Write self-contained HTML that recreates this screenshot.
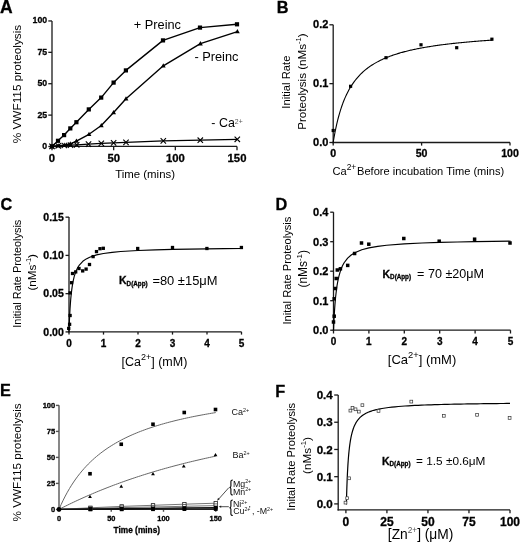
<!DOCTYPE html>
<html><head><meta charset="utf-8"><style>
html,body{margin:0;padding:0;background:#fff;overflow:hidden;}
svg{display:block;font-family:"Liberation Sans", sans-serif;filter:grayscale(1);}
</style></head><body>
<svg width="520" height="543" viewBox="0 0 520 543">
<rect width="520" height="543" fill="#fff"/>
<text id="L_A" x="-0.10" y="12.60" font-size="17.500" font-weight="bold" stroke="#000" stroke-width="0.3" text-anchor="start" fill="#000">A</text>
<line x1="52.00" y1="147.05" x2="52.00" y2="20.90" stroke="#1a1a1a" stroke-width="1.3" stroke-linecap="butt"/>
<line x1="51.35" y1="146.40" x2="237.05" y2="146.40" stroke="#1a1a1a" stroke-width="1.3" stroke-linecap="butt"/>
<line x1="48.30" y1="146.50" x2="52.00" y2="146.50" stroke="#1a1a1a" stroke-width="1.3" stroke-linecap="butt"/>
<text id="A_yl0" x="47.20" y="149.04" font-size="9.400" font-weight="bold" stroke="#000" stroke-width="0.3" text-anchor="end" fill="#000" textLength="4.86" lengthAdjust="spacingAndGlyphs">0</text>
<line x1="48.30" y1="115.11" x2="52.00" y2="115.11" stroke="#1a1a1a" stroke-width="1.3" stroke-linecap="butt"/>
<text id="A_yl1" x="47.20" y="117.65" font-size="9.400" font-weight="bold" stroke="#000" stroke-width="0.3" text-anchor="end" fill="#000" textLength="9.72" lengthAdjust="spacingAndGlyphs">25</text>
<line x1="48.30" y1="83.72" x2="52.00" y2="83.72" stroke="#1a1a1a" stroke-width="1.3" stroke-linecap="butt"/>
<text id="A_yl2" x="47.20" y="86.26" font-size="9.400" font-weight="bold" stroke="#000" stroke-width="0.3" text-anchor="end" fill="#000" textLength="9.72" lengthAdjust="spacingAndGlyphs">50</text>
<line x1="48.30" y1="52.34" x2="52.00" y2="52.34" stroke="#1a1a1a" stroke-width="1.3" stroke-linecap="butt"/>
<text id="A_yl3" x="47.20" y="54.87" font-size="9.400" font-weight="bold" stroke="#000" stroke-width="0.3" text-anchor="end" fill="#000" textLength="9.72" lengthAdjust="spacingAndGlyphs">75</text>
<line x1="48.30" y1="20.95" x2="52.00" y2="20.95" stroke="#1a1a1a" stroke-width="1.3" stroke-linecap="butt"/>
<text id="A_yl4" x="47.20" y="23.49" font-size="9.400" font-weight="bold" stroke="#000" stroke-width="0.3" text-anchor="end" fill="#000" textLength="14.58" lengthAdjust="spacingAndGlyphs">100</text>
<line x1="52.00" y1="146.40" x2="52.00" y2="150.30" stroke="#1a1a1a" stroke-width="1.3" stroke-linecap="butt"/>
<text id="A_xl0" x="52.00" y="161.60" font-size="11.300" font-weight="bold" stroke="#000" stroke-width="0.3" text-anchor="middle" fill="#000">0</text>
<line x1="113.67" y1="146.40" x2="113.67" y2="150.30" stroke="#1a1a1a" stroke-width="1.3" stroke-linecap="butt"/>
<text id="A_xl1" x="113.67" y="161.60" font-size="11.300" font-weight="bold" stroke="#000" stroke-width="0.3" text-anchor="middle" fill="#000">50</text>
<line x1="175.33" y1="146.40" x2="175.33" y2="150.30" stroke="#1a1a1a" stroke-width="1.3" stroke-linecap="butt"/>
<text id="A_xl2" x="175.33" y="161.60" font-size="11.300" font-weight="bold" stroke="#000" stroke-width="0.3" text-anchor="middle" fill="#000">100</text>
<line x1="237.00" y1="146.40" x2="237.00" y2="150.30" stroke="#1a1a1a" stroke-width="1.3" stroke-linecap="butt"/>
<text id="A_xl3" x="237.00" y="161.60" font-size="11.300" font-weight="bold" stroke="#000" stroke-width="0.3" text-anchor="middle" fill="#000">150</text>
<text id="A_xt" x="115.18" y="177.80" font-size="11.438" text-anchor="start" fill="#000">Time (mins)</text>
<text id="A_yt" transform="translate(20.80 143.37) rotate(-90)" x="0" y="0" font-size="11.827" text-anchor="start" fill="#000">% VWF115 proteolysis</text>
<path d="M52.00,146.40 L58.20,145.80 L64.30,145.50 L70.50,145.20 L76.70,144.80 L88.50,144.10 L101.30,143.40 L113.60,142.90 L126.00,142.40 L163.30,140.90 L200.30,140.20 L237.30,139.30" fill="none" stroke="#000" stroke-width="1.3" stroke-linejoin="round"/>
<path d="M52.00,146.40 L58.20,145.80 L64.30,145.20 L70.30,143.90 L76.40,141.10 L89.00,134.30 L101.30,125.50 L113.60,112.50 L126.00,98.80 L163.30,65.80 L200.40,43.70 L237.40,31.60" fill="none" stroke="#000" stroke-width="1.4" stroke-linejoin="round"/>
<path d="M52.00,146.40 L58.00,140.80 L64.10,135.10 L70.30,128.40 L76.40,122.20 L88.80,109.40 L101.20,97.60 L113.60,82.60 L125.90,70.40 L163.00,40.40 L200.00,27.60 L237.00,24.30" fill="none" stroke="#000" stroke-width="1.4" stroke-linejoin="round"/>
<path d="M49.30,143.70 L54.70,149.10 M54.70,143.70 L49.30,149.10" stroke="#000" stroke-width="1.1" fill="none"/>
<path d="M55.50,143.10 L60.90,148.50 M60.90,143.10 L55.50,148.50" stroke="#000" stroke-width="1.1" fill="none"/>
<path d="M61.60,142.80 L67.00,148.20 M67.00,142.80 L61.60,148.20" stroke="#000" stroke-width="1.1" fill="none"/>
<path d="M67.80,142.50 L73.20,147.90 M73.20,142.50 L67.80,147.90" stroke="#000" stroke-width="1.1" fill="none"/>
<path d="M74.00,142.10 L79.40,147.50 M79.40,142.10 L74.00,147.50" stroke="#000" stroke-width="1.1" fill="none"/>
<path d="M85.80,141.40 L91.20,146.80 M91.20,141.40 L85.80,146.80" stroke="#000" stroke-width="1.1" fill="none"/>
<path d="M98.60,140.70 L104.00,146.10 M104.00,140.70 L98.60,146.10" stroke="#000" stroke-width="1.1" fill="none"/>
<path d="M110.90,140.20 L116.30,145.60 M116.30,140.20 L110.90,145.60" stroke="#000" stroke-width="1.1" fill="none"/>
<path d="M123.30,139.70 L128.70,145.10 M128.70,139.70 L123.30,145.10" stroke="#000" stroke-width="1.1" fill="none"/>
<path d="M160.60,138.20 L166.00,143.60 M166.00,138.20 L160.60,143.60" stroke="#000" stroke-width="1.1" fill="none"/>
<path d="M197.60,137.50 L203.00,142.90 M203.00,137.50 L197.60,142.90" stroke="#000" stroke-width="1.1" fill="none"/>
<path d="M234.60,136.60 L240.00,142.00 M240.00,136.60 L234.60,142.00" stroke="#000" stroke-width="1.1" fill="none"/>
<path d="M52.00,143.81 L54.40,148.13 L49.60,148.13 Z" fill="#000"/>
<path d="M58.20,143.21 L60.60,147.53 L55.80,147.53 Z" fill="#000"/>
<path d="M64.30,142.61 L66.70,146.93 L61.90,146.93 Z" fill="#000"/>
<path d="M70.30,141.31 L72.70,145.63 L67.90,145.63 Z" fill="#000"/>
<path d="M76.40,138.51 L78.80,142.83 L74.00,142.83 Z" fill="#000"/>
<path d="M89.00,131.71 L91.40,136.03 L86.60,136.03 Z" fill="#000"/>
<path d="M101.30,122.91 L103.70,127.23 L98.90,127.23 Z" fill="#000"/>
<path d="M113.60,109.91 L116.00,114.23 L111.20,114.23 Z" fill="#000"/>
<path d="M126.00,96.21 L128.40,100.53 L123.60,100.53 Z" fill="#000"/>
<path d="M163.30,63.21 L165.70,67.53 L160.90,67.53 Z" fill="#000"/>
<path d="M200.40,41.11 L202.80,45.43 L198.00,45.43 Z" fill="#000"/>
<path d="M237.40,29.01 L239.80,33.33 L235.00,33.33 Z" fill="#000"/>
<rect x="49.90" y="144.30" width="4.2" height="4.2" fill="#000"/>
<rect x="55.90" y="138.70" width="4.2" height="4.2" fill="#000"/>
<rect x="62.00" y="133.00" width="4.2" height="4.2" fill="#000"/>
<rect x="68.20" y="126.30" width="4.2" height="4.2" fill="#000"/>
<rect x="74.30" y="120.10" width="4.2" height="4.2" fill="#000"/>
<rect x="86.70" y="107.30" width="4.2" height="4.2" fill="#000"/>
<rect x="99.10" y="95.50" width="4.2" height="4.2" fill="#000"/>
<rect x="111.50" y="80.50" width="4.2" height="4.2" fill="#000"/>
<rect x="123.80" y="68.30" width="4.2" height="4.2" fill="#000"/>
<rect x="160.90" y="38.30" width="4.2" height="4.2" fill="#000"/>
<rect x="197.90" y="25.50" width="4.2" height="4.2" fill="#000"/>
<rect x="234.90" y="22.20" width="4.2" height="4.2" fill="#000"/>
<text id="A_p1" x="133.79" y="29.10" font-size="12.788" text-anchor="start" fill="#000">+ Preinc</text>
<text id="A_p2" x="194.40" y="60.70" font-size="12.808" text-anchor="start" fill="#000">- Preinc</text>
<text id="A_ca" x="211.36" y="127.30" font-size="12.434" text-anchor="start" fill="#000">- Ca</text>
<text id="A_ca2" x="234.80" y="124.40" font-size="6.900" text-anchor="start" fill="#555">2+</text>
<text id="L_B" x="276.73" y="12.70" font-size="16.300" font-weight="bold" stroke="#000" stroke-width="0.3" text-anchor="start" fill="#000">B</text>
<line x1="333.20" y1="143.15" x2="333.20" y2="24.75" stroke="#1a1a1a" stroke-width="1.3" stroke-linecap="butt"/>
<line x1="332.55" y1="142.50" x2="510.05" y2="142.50" stroke="#1a1a1a" stroke-width="1.3" stroke-linecap="butt"/>
<line x1="329.40" y1="142.50" x2="333.20" y2="142.50" stroke="#1a1a1a" stroke-width="1.3" stroke-linecap="butt"/>
<text id="B_yl0" x="328.40" y="145.91" font-size="11.000" font-weight="bold" stroke="#000" stroke-width="0.3" text-anchor="end" fill="#000">0.0</text>
<line x1="329.40" y1="83.65" x2="333.20" y2="83.65" stroke="#1a1a1a" stroke-width="1.3" stroke-linecap="butt"/>
<text id="B_yl1" x="328.40" y="87.06" font-size="11.000" font-weight="bold" stroke="#000" stroke-width="0.3" text-anchor="end" fill="#000">0.1</text>
<line x1="329.40" y1="24.80" x2="333.20" y2="24.80" stroke="#1a1a1a" stroke-width="1.3" stroke-linecap="butt"/>
<text id="B_yl2" x="328.40" y="28.20" font-size="11.000" font-weight="bold" stroke="#000" stroke-width="0.3" text-anchor="end" fill="#000">0.2</text>
<line x1="333.20" y1="142.50" x2="333.20" y2="145.60" stroke="#1a1a1a" stroke-width="1.3" stroke-linecap="butt"/>
<text id="B_xl0" x="333.20" y="157.00" font-size="10.600" font-weight="bold" stroke="#000" stroke-width="0.3" text-anchor="middle" fill="#000">0</text>
<line x1="421.60" y1="142.50" x2="421.60" y2="145.60" stroke="#1a1a1a" stroke-width="1.3" stroke-linecap="butt"/>
<text id="B_xl1" x="421.60" y="157.00" font-size="10.600" font-weight="bold" stroke="#000" stroke-width="0.3" text-anchor="middle" fill="#000">50</text>
<line x1="510.00" y1="142.50" x2="510.00" y2="145.60" stroke="#1a1a1a" stroke-width="1.3" stroke-linecap="butt"/>
<text id="B_xl2" x="510.00" y="157.00" font-size="10.600" font-weight="bold" stroke="#000" stroke-width="0.3" text-anchor="middle" fill="#000">100</text>
<path d="M333.20,142.50 L334.08,137.28 L334.97,132.51 L335.85,128.14 L336.74,124.13 L337.62,120.42 L338.50,116.99 L339.39,113.81 L340.27,110.84 L341.16,108.08 L342.04,105.49 L342.92,103.07 L343.81,100.79 L344.69,98.65 L345.58,96.63 L346.46,94.72 L347.34,92.92 L348.23,91.21 L349.11,89.59 L350.00,88.05 L350.88,86.59 L351.76,85.19 L352.65,83.86 L353.53,82.60 L354.42,81.38 L355.30,80.23 L356.18,79.12 L357.07,78.05 L357.95,77.03 L358.84,76.05 L359.72,75.11 L360.60,74.21 L361.49,73.34 L362.37,72.50 L363.26,71.70 L364.14,70.92 L365.02,70.17 L365.91,69.44 L366.79,68.74 L367.68,68.06 L368.56,67.41 L369.44,66.78 L370.33,66.16 L371.21,65.57 L372.10,64.99 L372.98,64.44 L373.86,63.89 L374.75,63.37 L375.63,62.86 L376.52,62.36 L377.40,61.88 L378.28,61.41 L379.17,60.96 L380.05,60.51 L380.94,60.08 L381.82,59.66 L382.70,59.25 L383.59,58.85 L384.47,58.47 L385.36,58.09 L386.24,57.72 L387.12,57.36 L388.01,57.01 L388.89,56.66 L389.78,56.33 L390.66,56.00 L391.54,55.68 L392.43,55.37 L393.31,55.06 L394.20,54.76 L395.08,54.47 L395.96,54.19 L396.85,53.91 L397.73,53.63 L398.62,53.36 L399.50,53.10 L400.38,52.84 L401.27,52.59 L402.15,52.35 L403.04,52.11 L403.92,51.87 L404.80,51.64 L405.69,51.41 L406.57,51.19 L407.46,50.97 L408.34,50.75 L409.22,50.54 L410.11,50.33 L410.99,50.13 L411.88,49.93 L412.76,49.73 L413.64,49.54 L414.53,49.35 L415.41,49.17 L416.30,48.99 L417.18,48.81 L418.06,48.63 L418.95,48.46 L419.83,48.29 L420.72,48.12 L421.60,47.95 L422.48,47.79 L423.37,47.63 L424.25,47.48 L425.14,47.32 L426.02,47.17 L426.90,47.02 L427.79,46.87 L428.67,46.73 L429.56,46.59 L430.44,46.45 L431.32,46.31 L432.21,46.17 L433.09,46.04 L433.98,45.91 L434.86,45.78 L435.74,45.65 L436.63,45.52 L437.51,45.40 L438.40,45.27 L439.28,45.15 L440.16,45.03 L441.05,44.91 L441.93,44.80 L442.82,44.68 L443.70,44.57 L444.58,44.46 L445.47,44.35 L446.35,44.24 L447.24,44.13 L448.12,44.03 L449.00,43.93 L449.89,43.82 L450.77,43.72 L451.66,43.62 L452.54,43.52 L453.42,43.42 L454.31,43.33 L455.19,43.23 L456.08,43.14 L456.96,43.05 L457.84,42.95 L458.73,42.86 L459.61,42.77 L460.50,42.69 L461.38,42.60 L462.26,42.51 L463.15,42.43 L464.03,42.34 L464.92,42.26 L465.80,42.18 L466.68,42.10 L467.57,42.02 L468.45,41.94 L469.34,41.86 L470.22,41.78 L471.10,41.70 L471.99,41.63 L472.87,41.55 L473.76,41.48 L474.64,41.41 L475.52,41.33 L476.41,41.26 L477.29,41.19 L478.18,41.12 L479.06,41.05 L479.94,40.98 L480.83,40.91 L481.71,40.85 L482.60,40.78 L483.48,40.71 L484.36,40.65 L485.25,40.59 L486.13,40.52 L487.02,40.46 L487.90,40.40 L488.78,40.33 L489.67,40.27 L490.55,40.21 L491.44,40.15 L492.32,40.09" fill="none" stroke="#000" stroke-width="1.1" stroke-linejoin="round"/>
<rect x="331.60" y="128.90" width="3.2" height="3.2" fill="#000"/>
<rect x="349.00" y="84.70" width="3.2" height="3.2" fill="#000"/>
<rect x="384.40" y="56.10" width="3.2" height="3.2" fill="#000"/>
<rect x="419.40" y="43.20" width="3.2" height="3.2" fill="#000"/>
<rect x="455.10" y="46.10" width="3.2" height="3.2" fill="#000"/>
<rect x="490.30" y="37.60" width="3.2" height="3.2" fill="#000"/>
<text id="B_yt1" transform="translate(290.10 108.70) rotate(-90)" x="0" y="0" font-size="11.252" text-anchor="start" fill="#000">Initial Rate</text>
<text id="B_yt2" transform="translate(305.90 129.77) rotate(-90)" x="0" y="0" font-size="11.625" text-anchor="start" fill="#000">Proteolysis (nMs<tspan font-size="7.56" dy="-4.65">-1</tspan><tspan dy="4.65">)</tspan></text>
<text id="B_xt" x="332.46" y="174.50" font-size="11.098" text-anchor="start" fill="#000">Ca<tspan font-size="8.43" dy="-4.44">2+</tspan><tspan dy="4.44" dx="0.8">Before incubation Time (mins)</tspan></text>
<text id="L_C" x="0.54" y="210.10" font-size="16.300" font-weight="bold" stroke="#000" stroke-width="0.3" text-anchor="start" fill="#000">C</text>
<line x1="69.00" y1="332.55" x2="69.00" y2="217.10" stroke="#1a1a1a" stroke-width="1.3" stroke-linecap="butt"/>
<line x1="68.35" y1="331.90" x2="241.55" y2="331.90" stroke="#1a1a1a" stroke-width="1.3" stroke-linecap="butt"/>
<line x1="65.50" y1="331.90" x2="69.00" y2="331.90" stroke="#1a1a1a" stroke-width="1.3" stroke-linecap="butt"/>
<text id="C_yl0" x="63.80" y="335.63" font-size="10.500" font-weight="bold" stroke="#000" stroke-width="0.3" text-anchor="end" fill="#000">0.00</text>
<line x1="65.50" y1="293.65" x2="69.00" y2="293.65" stroke="#1a1a1a" stroke-width="1.3" stroke-linecap="butt"/>
<text id="C_yl1" x="63.80" y="297.38" font-size="10.500" font-weight="bold" stroke="#000" stroke-width="0.3" text-anchor="end" fill="#000">0.05</text>
<line x1="65.50" y1="255.40" x2="69.00" y2="255.40" stroke="#1a1a1a" stroke-width="1.3" stroke-linecap="butt"/>
<text id="C_yl2" x="63.80" y="259.13" font-size="10.500" font-weight="bold" stroke="#000" stroke-width="0.3" text-anchor="end" fill="#000">0.10</text>
<line x1="65.50" y1="217.15" x2="69.00" y2="217.15" stroke="#1a1a1a" stroke-width="1.3" stroke-linecap="butt"/>
<text id="C_yl3" x="63.80" y="220.88" font-size="10.500" font-weight="bold" stroke="#000" stroke-width="0.3" text-anchor="end" fill="#000">0.15</text>
<line x1="69.00" y1="331.90" x2="69.00" y2="334.60" stroke="#1a1a1a" stroke-width="1.3" stroke-linecap="butt"/>
<text id="C_xl0" x="69.00" y="346.50" font-size="10.000" font-weight="bold" stroke="#000" stroke-width="0.3" text-anchor="middle" fill="#000">0</text>
<line x1="103.50" y1="331.90" x2="103.50" y2="334.60" stroke="#1a1a1a" stroke-width="1.3" stroke-linecap="butt"/>
<text id="C_xl1" x="103.50" y="346.50" font-size="10.000" font-weight="bold" stroke="#000" stroke-width="0.3" text-anchor="middle" fill="#000">1</text>
<line x1="138.00" y1="331.90" x2="138.00" y2="334.60" stroke="#1a1a1a" stroke-width="1.3" stroke-linecap="butt"/>
<text id="C_xl2" x="138.00" y="346.50" font-size="10.000" font-weight="bold" stroke="#000" stroke-width="0.3" text-anchor="middle" fill="#000">2</text>
<line x1="172.50" y1="331.90" x2="172.50" y2="334.60" stroke="#1a1a1a" stroke-width="1.3" stroke-linecap="butt"/>
<text id="C_xl3" x="172.50" y="346.50" font-size="10.000" font-weight="bold" stroke="#000" stroke-width="0.3" text-anchor="middle" fill="#000">3</text>
<line x1="207.00" y1="331.90" x2="207.00" y2="334.60" stroke="#1a1a1a" stroke-width="1.3" stroke-linecap="butt"/>
<text id="C_xl4" x="207.00" y="346.50" font-size="10.000" font-weight="bold" stroke="#000" stroke-width="0.3" text-anchor="middle" fill="#000">4</text>
<line x1="241.50" y1="331.90" x2="241.50" y2="334.60" stroke="#1a1a1a" stroke-width="1.3" stroke-linecap="butt"/>
<text id="C_xl5" x="241.50" y="346.50" font-size="10.000" font-weight="bold" stroke="#000" stroke-width="0.3" text-anchor="middle" fill="#000">5</text>
<path d="M69.00,331.90 L69.17,326.92 L69.34,322.49 L69.69,314.96 L70.03,308.80 L70.38,303.67 L70.72,299.33 L71.07,295.61 L71.76,289.56 L72.45,284.85 L73.14,281.09 L74.17,276.67 L75.90,271.41 L77.62,267.74 L79.35,265.04 L82.80,261.33 L86.25,258.90 L89.70,257.18 L96.60,254.91 L103.50,253.49 L112.12,252.31 L120.75,251.50 L138.00,250.47 L155.25,249.84 L172.50,249.41 L189.75,249.11 L207.00,248.87 L224.25,248.69 L241.50,248.55" fill="none" stroke="#000" stroke-width="1.15" stroke-linejoin="round"/>
<rect x="67.05" y="326.75" width="3.3" height="3.3" fill="#000"/>
<rect x="67.95" y="322.65" width="3.3" height="3.3" fill="#000"/>
<rect x="68.45" y="313.85" width="3.3" height="3.3" fill="#000"/>
<rect x="68.45" y="291.25" width="3.3" height="3.3" fill="#000"/>
<rect x="69.95" y="281.05" width="3.3" height="3.3" fill="#000"/>
<rect x="70.85" y="271.85" width="3.3" height="3.3" fill="#000"/>
<rect x="74.05" y="270.25" width="3.3" height="3.3" fill="#000"/>
<rect x="77.35" y="266.85" width="3.3" height="3.3" fill="#000"/>
<rect x="81.05" y="269.25" width="3.3" height="3.3" fill="#000"/>
<rect x="84.45" y="267.45" width="3.3" height="3.3" fill="#000"/>
<rect x="87.85" y="262.85" width="3.3" height="3.3" fill="#000"/>
<rect x="91.45" y="254.95" width="3.3" height="3.3" fill="#000"/>
<rect x="94.85" y="249.95" width="3.3" height="3.3" fill="#000"/>
<rect x="98.35" y="247.05" width="3.3" height="3.3" fill="#000"/>
<rect x="101.65" y="246.65" width="3.3" height="3.3" fill="#000"/>
<rect x="136.05" y="246.85" width="3.3" height="3.3" fill="#000"/>
<rect x="170.85" y="245.85" width="3.3" height="3.3" fill="#000"/>
<rect x="205.25" y="246.85" width="3.3" height="3.3" fill="#000"/>
<rect x="239.75" y="245.85" width="3.3" height="3.3" fill="#000"/>
<text id="C_yt1" transform="translate(21.10 327.72) rotate(-90)" x="0" y="0" font-size="10.937" text-anchor="start" fill="#000">Initial Rate Proteolysis</text>
<text id="C_yt2" transform="translate(36.10 290.57) rotate(-90)" x="0" y="0" font-size="11.683" text-anchor="start" fill="#000">(nMs<tspan font-size="7.59" dy="-4.67">-1</tspan><tspan dy="4.67">)</tspan></text>
<text id="C_xt" x="121.55" y="366.00" font-size="12.504" text-anchor="start" fill="#000">[Ca<tspan font-size="9.00" dy="-6.25">2+</tspan><tspan dy="6.25">] (mM)</tspan></text>
<text id="C_K" x="119.03" y="284.40" font-size="10.500" font-weight="bold" stroke="#000" stroke-width="0.3" text-anchor="start" fill="#000">K<tspan font-size="6.30" dy="1.57">D(App)</tspan></text>
<text id="C_v" x="152.40" y="284.80" font-size="12.925" text-anchor="start" fill="#000">=80 ±15μM</text>
<text id="L_D" x="275.44" y="210.30" font-size="16.300" font-weight="bold" stroke="#000" stroke-width="0.3" text-anchor="start" fill="#000">D</text>
<line x1="333.50" y1="330.85" x2="333.50" y2="212.15" stroke="#1a1a1a" stroke-width="1.3" stroke-linecap="butt"/>
<line x1="332.85" y1="330.20" x2="510.55" y2="330.20" stroke="#1a1a1a" stroke-width="1.3" stroke-linecap="butt"/>
<line x1="330.20" y1="330.20" x2="333.50" y2="330.20" stroke="#1a1a1a" stroke-width="1.3" stroke-linecap="butt"/>
<text id="D_yl0" x="328.40" y="334.10" font-size="11.000" font-weight="bold" stroke="#000" stroke-width="0.3" text-anchor="end" fill="#000">0.0</text>
<line x1="330.20" y1="300.70" x2="333.50" y2="300.70" stroke="#1a1a1a" stroke-width="1.3" stroke-linecap="butt"/>
<text id="D_yl1" x="328.40" y="304.60" font-size="11.000" font-weight="bold" stroke="#000" stroke-width="0.3" text-anchor="end" fill="#000">0.1</text>
<line x1="330.20" y1="271.20" x2="333.50" y2="271.20" stroke="#1a1a1a" stroke-width="1.3" stroke-linecap="butt"/>
<text id="D_yl2" x="328.40" y="275.10" font-size="11.000" font-weight="bold" stroke="#000" stroke-width="0.3" text-anchor="end" fill="#000">0.2</text>
<line x1="330.20" y1="241.70" x2="333.50" y2="241.70" stroke="#1a1a1a" stroke-width="1.3" stroke-linecap="butt"/>
<text id="D_yl3" x="328.40" y="245.60" font-size="11.000" font-weight="bold" stroke="#000" stroke-width="0.3" text-anchor="end" fill="#000">0.3</text>
<line x1="330.20" y1="212.20" x2="333.50" y2="212.20" stroke="#1a1a1a" stroke-width="1.3" stroke-linecap="butt"/>
<text id="D_yl4" x="328.40" y="216.10" font-size="11.000" font-weight="bold" stroke="#000" stroke-width="0.3" text-anchor="end" fill="#000">0.4</text>
<line x1="333.50" y1="330.20" x2="333.50" y2="333.50" stroke="#1a1a1a" stroke-width="1.3" stroke-linecap="butt"/>
<text id="D_xl0" x="333.50" y="344.80" font-size="10.000" font-weight="bold" stroke="#000" stroke-width="0.3" text-anchor="middle" fill="#000">0</text>
<line x1="368.90" y1="330.20" x2="368.90" y2="333.50" stroke="#1a1a1a" stroke-width="1.3" stroke-linecap="butt"/>
<text id="D_xl1" x="368.90" y="344.80" font-size="10.000" font-weight="bold" stroke="#000" stroke-width="0.3" text-anchor="middle" fill="#000">1</text>
<line x1="404.30" y1="330.20" x2="404.30" y2="333.50" stroke="#1a1a1a" stroke-width="1.3" stroke-linecap="butt"/>
<text id="D_xl2" x="404.30" y="344.80" font-size="10.000" font-weight="bold" stroke="#000" stroke-width="0.3" text-anchor="middle" fill="#000">2</text>
<line x1="439.70" y1="330.20" x2="439.70" y2="333.50" stroke="#1a1a1a" stroke-width="1.3" stroke-linecap="butt"/>
<text id="D_xl3" x="439.70" y="344.80" font-size="10.000" font-weight="bold" stroke="#000" stroke-width="0.3" text-anchor="middle" fill="#000">3</text>
<line x1="475.10" y1="330.20" x2="475.10" y2="333.50" stroke="#1a1a1a" stroke-width="1.3" stroke-linecap="butt"/>
<text id="D_xl4" x="475.10" y="344.80" font-size="10.000" font-weight="bold" stroke="#000" stroke-width="0.3" text-anchor="middle" fill="#000">4</text>
<line x1="510.50" y1="330.20" x2="510.50" y2="333.50" stroke="#1a1a1a" stroke-width="1.3" stroke-linecap="butt"/>
<text id="D_xl5" x="510.50" y="344.80" font-size="10.000" font-weight="bold" stroke="#000" stroke-width="0.3" text-anchor="middle" fill="#000">5</text>
<path d="M333.50,330.20 L333.68,326.03 L333.85,322.23 L334.21,315.55 L334.56,309.86 L334.92,304.96 L335.27,300.70 L335.62,296.96 L336.33,290.70 L337.04,285.66 L337.75,281.52 L338.81,276.54 L340.58,270.42 L342.35,266.03 L344.12,262.73 L347.66,258.09 L351.20,254.98 L354.74,252.76 L361.82,249.79 L368.90,247.90 L377.75,246.32 L386.60,245.23 L404.30,243.83 L422.00,242.97 L439.70,242.38 L457.40,241.96 L475.10,241.64 L492.80,241.39 L510.50,241.19" fill="none" stroke="#000" stroke-width="1.15" stroke-linejoin="round"/>
<rect x="331.75" y="320.25" width="3.5" height="3.5" fill="#000"/>
<rect x="332.45" y="314.45" width="3.5" height="3.5" fill="#000"/>
<rect x="332.45" y="297.05" width="3.5" height="3.5" fill="#000"/>
<rect x="333.65" y="286.75" width="3.5" height="3.5" fill="#000"/>
<rect x="334.45" y="276.75" width="3.5" height="3.5" fill="#000"/>
<rect x="335.55" y="268.25" width="3.5" height="3.5" fill="#000"/>
<rect x="338.65" y="267.05" width="3.5" height="3.5" fill="#000"/>
<rect x="345.95" y="263.65" width="3.5" height="3.5" fill="#000"/>
<rect x="352.85" y="251.75" width="3.5" height="3.5" fill="#000"/>
<rect x="359.75" y="241.25" width="3.5" height="3.5" fill="#000"/>
<rect x="367.05" y="242.45" width="3.5" height="3.5" fill="#000"/>
<rect x="402.05" y="236.75" width="3.5" height="3.5" fill="#000"/>
<rect x="437.45" y="239.45" width="3.5" height="3.5" fill="#000"/>
<rect x="472.85" y="237.45" width="3.5" height="3.5" fill="#000"/>
<rect x="508.25" y="241.25" width="3.5" height="3.5" fill="#000"/>
<text id="D_yt1" transform="translate(291.00 324.52) rotate(-90)" x="0" y="0" font-size="11.176" text-anchor="start" fill="#000">Inital Rate Proteolysis</text>
<text id="D_yt2" transform="translate(307.00 287.55) rotate(-90)" x="0" y="0" font-size="11.968" text-anchor="start" fill="#000">(nMs<tspan font-size="7.78" dy="-4.79">-1</tspan><tspan dy="4.79">)</tspan></text>
<text id="D_xt" x="387.85" y="364.40" font-size="12.997" text-anchor="start" fill="#000">[Ca<tspan font-size="9.36" dy="-6.50">2+</tspan><tspan dy="6.50">] (mM)</tspan></text>
<text id="D_K" x="382.49" y="277.90" font-size="10.500" font-weight="bold" stroke="#000" stroke-width="0.3" text-anchor="start" fill="#000">K<tspan font-size="6.30" dy="1.57">D(App)</tspan></text>
<text id="D_v" x="417.07" y="278.30" font-size="12.596" text-anchor="start" fill="#000">= 70 ±20μM</text>
<text id="L_E" x="0.08" y="396.20" font-size="16.300" font-weight="bold" stroke="#000" stroke-width="0.3" text-anchor="start" fill="#000">E</text>
<line x1="59.00" y1="510.10" x2="59.00" y2="405.30" stroke="#555" stroke-width="1.4" stroke-linecap="butt"/>
<line x1="58.30" y1="509.40" x2="215.85" y2="509.40" stroke="#555" stroke-width="1.4" stroke-linecap="butt"/>
<line x1="55.90" y1="509.40" x2="59.00" y2="509.40" stroke="#555" stroke-width="1.4" stroke-linecap="butt"/>
<text id="E_yl0" x="55.20" y="512.06" font-size="7.500" font-weight="bold" stroke="#000" stroke-width="0.3" text-anchor="end" fill="#000">0</text>
<line x1="55.90" y1="483.40" x2="59.00" y2="483.40" stroke="#555" stroke-width="1.4" stroke-linecap="butt"/>
<text id="E_yl1" x="55.20" y="486.06" font-size="7.500" font-weight="bold" stroke="#000" stroke-width="0.3" text-anchor="end" fill="#000">25</text>
<line x1="55.90" y1="457.40" x2="59.00" y2="457.40" stroke="#555" stroke-width="1.4" stroke-linecap="butt"/>
<text id="E_yl2" x="55.20" y="460.06" font-size="7.500" font-weight="bold" stroke="#000" stroke-width="0.3" text-anchor="end" fill="#000">50</text>
<line x1="55.90" y1="431.40" x2="59.00" y2="431.40" stroke="#555" stroke-width="1.4" stroke-linecap="butt"/>
<text id="E_yl3" x="55.20" y="434.06" font-size="7.500" font-weight="bold" stroke="#000" stroke-width="0.3" text-anchor="end" fill="#000">75</text>
<line x1="55.90" y1="405.40" x2="59.00" y2="405.40" stroke="#555" stroke-width="1.4" stroke-linecap="butt"/>
<text id="E_yl4" x="55.20" y="408.06" font-size="7.500" font-weight="bold" stroke="#000" stroke-width="0.3" text-anchor="end" fill="#000">100</text>
<line x1="59.00" y1="509.40" x2="59.00" y2="511.80" stroke="#555" stroke-width="1.4" stroke-linecap="butt"/>
<text id="E_xl0" x="59.00" y="521.20" font-size="7.400" font-weight="bold" stroke="#000" stroke-width="0.3" text-anchor="middle" fill="#000">0</text>
<line x1="111.25" y1="509.40" x2="111.25" y2="511.80" stroke="#555" stroke-width="1.4" stroke-linecap="butt"/>
<text id="E_xl1" x="111.25" y="521.20" font-size="7.400" font-weight="bold" stroke="#000" stroke-width="0.3" text-anchor="middle" fill="#000">50</text>
<line x1="163.50" y1="509.40" x2="163.50" y2="511.80" stroke="#555" stroke-width="1.4" stroke-linecap="butt"/>
<text id="E_xl2" x="163.50" y="521.20" font-size="7.400" font-weight="bold" stroke="#000" stroke-width="0.3" text-anchor="middle" fill="#000">100</text>
<line x1="215.75" y1="509.40" x2="215.75" y2="511.80" stroke="#555" stroke-width="1.4" stroke-linecap="butt"/>
<text id="E_xl3" x="215.75" y="521.20" font-size="7.400" font-weight="bold" stroke="#000" stroke-width="0.3" text-anchor="middle" fill="#000">150</text>
<path d="M59.00,509.40 L61.09,504.63 L63.18,500.20 L65.27,496.07 L67.36,492.21 L69.45,488.60 L71.54,485.21 L73.63,482.02 L75.72,479.01 L77.81,476.18 L79.90,473.50 L81.99,470.96 L84.08,468.56 L86.17,466.27 L88.26,464.10 L90.35,462.04 L92.44,460.07 L94.53,458.19 L96.62,456.40 L98.71,454.68 L100.80,453.04 L102.89,451.47 L104.98,449.96 L107.07,448.51 L109.16,447.12 L111.25,445.79 L113.34,444.50 L115.43,443.27 L117.52,442.08 L119.61,440.93 L121.70,439.82 L123.79,438.75 L125.88,437.72 L127.97,436.72 L130.06,435.76 L132.15,434.82 L134.24,433.92 L136.33,433.05 L138.42,432.20 L140.51,431.38 L142.60,430.58 L144.69,429.81 L146.78,429.05 L148.87,428.32 L150.96,427.62 L153.05,426.93 L155.14,426.26 L157.23,425.61 L159.32,424.97 L161.41,424.35 L163.50,423.75 L165.59,423.17 L167.68,422.60 L169.77,422.04 L171.86,421.50 L173.95,420.97 L176.04,420.45 L178.13,419.95 L180.22,419.46 L182.31,418.97 L184.40,418.51 L186.49,418.05 L188.58,417.60 L190.67,417.16 L192.76,416.73 L194.85,416.31 L196.94,415.90 L199.03,415.50 L201.12,415.11 L203.21,414.72 L205.30,414.35 L207.39,413.98 L209.48,413.61 L211.57,413.26 L213.66,412.91 L215.75,412.57" fill="none" stroke="#666" stroke-width="1.0" stroke-linejoin="round"/>
<path d="M59.00,509.40 L61.09,508.33 L63.18,507.27 L65.27,506.23 L67.36,505.19 L69.45,504.17 L71.54,503.17 L73.63,502.17 L75.72,501.18 L77.81,500.21 L79.90,499.25 L81.99,498.30 L84.08,497.36 L86.17,496.44 L88.26,495.52 L90.35,494.62 L92.44,493.72 L94.53,492.84 L96.62,491.96 L98.71,491.10 L100.80,490.25 L102.89,489.41 L104.98,488.58 L107.07,487.75 L109.16,486.94 L111.25,486.14 L113.34,485.34 L115.43,484.56 L117.52,483.79 L119.61,483.02 L121.70,482.27 L123.79,481.52 L125.88,480.78 L127.97,480.05 L130.06,479.33 L132.15,478.62 L134.24,477.92 L136.33,477.22 L138.42,476.53 L140.51,475.86 L142.60,475.19 L144.69,474.52 L146.78,473.87 L148.87,473.22 L150.96,472.58 L153.05,471.95 L155.14,471.33 L157.23,470.71 L159.32,470.10 L161.41,469.50 L163.50,468.90 L165.59,468.32 L167.68,467.74 L169.77,467.16 L171.86,466.60 L173.95,466.04 L176.04,465.48 L178.13,464.94 L180.22,464.40 L182.31,463.86 L184.40,463.33 L186.49,462.81 L188.58,462.30 L190.67,461.79 L192.76,461.29 L194.85,460.79 L196.94,460.30 L199.03,459.82 L201.12,459.34 L203.21,458.86 L205.30,458.39 L207.39,457.93 L209.48,457.48 L211.57,457.02 L213.66,456.58 L215.75,456.14" fill="none" stroke="#666" stroke-width="1.0" stroke-linejoin="round"/>
<path d="M59.00,509.40 L90.40,507.80 L121.70,506.40 L153.00,505.30 L184.40,504.20 L215.75,503.20" fill="none" stroke="#777" stroke-width="1.0" stroke-linejoin="round"/>
<path d="M59.00,509.40 L90.40,508.40 L121.70,507.60 L153.00,507.00 L184.40,506.30 L215.75,505.60" fill="none" stroke="#777" stroke-width="1.0" stroke-linejoin="round"/>
<path d="M59.00,509.40 L90.40,509.00 L121.70,508.70 L153.00,508.40 L184.40,508.00 L215.75,507.60" fill="none" stroke="#111" stroke-width="1.3" stroke-linejoin="round"/>
<path d="M59.00,509.40 L90.40,509.40 L121.70,509.30 L153.00,509.20 L184.40,509.10 L215.75,509.00" fill="none" stroke="#111" stroke-width="1.3" stroke-linejoin="round"/>
<rect x="88.70" y="506.10" width="3.4" height="3.4" fill="#fff" stroke="#222" stroke-width="0.8"/>
<rect x="120.00" y="504.70" width="3.4" height="3.4" fill="#fff" stroke="#222" stroke-width="0.8"/>
<rect x="151.30" y="503.60" width="3.4" height="3.4" fill="#fff" stroke="#222" stroke-width="0.8"/>
<rect x="182.70" y="502.50" width="3.4" height="3.4" fill="#fff" stroke="#222" stroke-width="0.8"/>
<rect x="214.05" y="501.50" width="3.4" height="3.4" fill="#fff" stroke="#222" stroke-width="0.8"/>
<rect x="88.70" y="506.70" width="3.4" height="3.4" fill="#fff" stroke="#444" stroke-width="0.8"/>
<rect x="120.00" y="505.90" width="3.4" height="3.4" fill="#fff" stroke="#444" stroke-width="0.8"/>
<rect x="151.30" y="505.30" width="3.4" height="3.4" fill="#fff" stroke="#444" stroke-width="0.8"/>
<rect x="182.70" y="504.60" width="3.4" height="3.4" fill="#fff" stroke="#444" stroke-width="0.8"/>
<rect x="214.05" y="503.90" width="3.4" height="3.4" fill="#fff" stroke="#444" stroke-width="0.8"/>
<rect x="88.50" y="507.10" width="3.8" height="3.8" fill="#000"/>
<rect x="119.80" y="506.80" width="3.8" height="3.8" fill="#000"/>
<rect x="151.10" y="506.50" width="3.8" height="3.8" fill="#000"/>
<rect x="182.50" y="506.10" width="3.8" height="3.8" fill="#000"/>
<rect x="213.85" y="505.70" width="3.8" height="3.8" fill="#000"/>
<rect x="88.50" y="507.50" width="3.8" height="3.8" fill="#000"/>
<rect x="119.80" y="507.40" width="3.8" height="3.8" fill="#000"/>
<rect x="151.10" y="507.30" width="3.8" height="3.8" fill="#000"/>
<rect x="182.50" y="507.20" width="3.8" height="3.8" fill="#000"/>
<rect x="213.85" y="507.10" width="3.8" height="3.8" fill="#000"/>
<circle cx="59" cy="509.4" r="2.4" fill="#000"/>
<rect x="88.20" y="471.95" width="3.6" height="3.6" fill="#000"/>
<rect x="119.45" y="442.45" width="3.6" height="3.6" fill="#000"/>
<rect x="151.20" y="422.45" width="3.6" height="3.6" fill="#000"/>
<rect x="182.45" y="410.70" width="3.6" height="3.6" fill="#000"/>
<rect x="213.70" y="407.70" width="3.6" height="3.6" fill="#000"/>
<path d="M90.00,494.70 L91.90,498.12 L88.10,498.12 Z" fill="#000"/>
<path d="M121.25,484.45 L123.15,487.87 L119.35,487.87 Z" fill="#000"/>
<path d="M153.00,471.95 L154.90,475.37 L151.10,475.37 Z" fill="#000"/>
<path d="M183.75,464.20 L185.65,467.62 L181.85,467.62 Z" fill="#000"/>
<path d="M215.50,452.95 L217.40,456.37 L213.60,456.37 Z" fill="#000"/>
<text id="E_xt" x="113.60" y="532.90" font-size="8.314" font-weight="bold" stroke="#000" stroke-width="0.3" text-anchor="start" fill="#000">Time (mins)</text>
<text id="E_yt" transform="translate(20.70 521.62) rotate(-90)" x="0" y="0" font-size="11.792" text-anchor="start" fill="#000">% VWF115 proteolysis</text>
<text id="E_ca" x="231.50" y="415.20" font-size="9.000" text-anchor="start" fill="#111">Ca<tspan font-size="5.40" dy="-3.24">2+</tspan></text>
<text id="E_ba" x="232.60" y="458.30" font-size="9.000" text-anchor="start" fill="#111">Ba<tspan font-size="5.40" dy="-3.24">2+</tspan></text>
<text id="E_mg" x="232.90" y="486.50" font-size="8.800" text-anchor="start" fill="#111">Mg<tspan font-size="5.28" dy="-3.17">2+</tspan></text>
<text id="E_mn" x="232.90" y="494.60" font-size="8.800" text-anchor="start" fill="#111">Mn<tspan font-size="5.28" dy="-3.17">2+</tspan></text>
<text id="E_ni" x="232.90" y="506.70" font-size="8.800" text-anchor="start" fill="#111">Ni<tspan font-size="5.28" dy="-3.17">2+</tspan><tspan dy="3.17" dx="1.2">,</tspan></text>
<text id="E_cu" x="233.20" y="514.40" font-size="8.800" text-anchor="start" fill="#111">Cu<tspan font-size="5.28" dy="-3.17">2+</tspan><tspan dy="3.17" dx="1.5">, -M</tspan><tspan font-size="5.28" dy="-3.17">2+</tspan></text>
<path d="M232.80,480.00 Q230.60,480.00 230.90,482.50 L230.90,486.00 Q230.90,487.50 229.40,487.50 Q230.90,487.50 230.90,489.00 L230.90,492.50 Q230.60,495.00 232.80,495.00" fill="none" stroke="#111" stroke-width="1.15"/>
<path d="M232.80,500.00 Q230.60,500.00 230.90,502.50 L230.90,506.25 Q230.90,507.75 229.40,507.75 Q230.90,507.75 230.90,509.25 L230.90,513.00 Q230.60,515.50 232.80,515.50" fill="none" stroke="#111" stroke-width="1.15"/>
<line x1="228.80" y1="487.70" x2="218.30" y2="499.50" stroke="#222" stroke-width="0.8" stroke-linecap="butt"/>
<path d="M217.2,500.7 L218.0,497.8 L219.7,499.3 Z" fill="#222"/>
<line x1="228.80" y1="506.70" x2="220.50" y2="506.70" stroke="#222" stroke-width="0.8" stroke-linecap="butt"/>
<path d="M218.6,506.7 L221.2,505.6 L221.2,507.8 Z" fill="#222"/>
<text id="L_F" x="275.20" y="397.20" font-size="16.300" font-weight="bold" stroke="#000" stroke-width="0.3" text-anchor="start" fill="#000">F</text>
<line x1="338.20" y1="510.55" x2="338.20" y2="394.97" stroke="#1a1a1a" stroke-width="1.3" stroke-linecap="butt"/>
<line x1="337.55" y1="509.90" x2="510.05" y2="509.90" stroke="#1a1a1a" stroke-width="1.3" stroke-linecap="butt"/>
<line x1="334.20" y1="503.90" x2="338.20" y2="503.90" stroke="#1a1a1a" stroke-width="1.3" stroke-linecap="butt"/>
<text id="F_yl0" x="332.80" y="508.02" font-size="11.600" font-weight="bold" stroke="#000" stroke-width="0.3" text-anchor="end" fill="#000">0.0</text>
<line x1="334.20" y1="476.68" x2="338.20" y2="476.68" stroke="#1a1a1a" stroke-width="1.3" stroke-linecap="butt"/>
<text id="F_yl1" x="332.80" y="480.80" font-size="11.600" font-weight="bold" stroke="#000" stroke-width="0.3" text-anchor="end" fill="#000">0.1</text>
<line x1="334.20" y1="449.46" x2="338.20" y2="449.46" stroke="#1a1a1a" stroke-width="1.3" stroke-linecap="butt"/>
<text id="F_yl2" x="332.80" y="453.58" font-size="11.600" font-weight="bold" stroke="#000" stroke-width="0.3" text-anchor="end" fill="#000">0.2</text>
<line x1="334.20" y1="422.24" x2="338.20" y2="422.24" stroke="#1a1a1a" stroke-width="1.3" stroke-linecap="butt"/>
<text id="F_yl3" x="332.80" y="426.36" font-size="11.600" font-weight="bold" stroke="#000" stroke-width="0.3" text-anchor="end" fill="#000">0.3</text>
<line x1="334.20" y1="395.02" x2="338.20" y2="395.02" stroke="#1a1a1a" stroke-width="1.3" stroke-linecap="butt"/>
<text id="F_yl4" x="332.80" y="399.14" font-size="11.600" font-weight="bold" stroke="#000" stroke-width="0.3" text-anchor="end" fill="#000">0.4</text>
<line x1="345.90" y1="509.90" x2="345.90" y2="513.30" stroke="#1a1a1a" stroke-width="1.3" stroke-linecap="butt"/>
<text id="F_xl0" x="345.90" y="525.60" font-size="12.000" font-weight="bold" stroke="#000" stroke-width="0.3" text-anchor="middle" fill="#000">0</text>
<line x1="386.92" y1="509.90" x2="386.92" y2="513.30" stroke="#1a1a1a" stroke-width="1.3" stroke-linecap="butt"/>
<text id="F_xl1" x="386.92" y="525.60" font-size="12.000" font-weight="bold" stroke="#000" stroke-width="0.3" text-anchor="middle" fill="#000">25</text>
<line x1="427.95" y1="509.90" x2="427.95" y2="513.30" stroke="#1a1a1a" stroke-width="1.3" stroke-linecap="butt"/>
<text id="F_xl2" x="427.95" y="525.60" font-size="12.000" font-weight="bold" stroke="#000" stroke-width="0.3" text-anchor="middle" fill="#000">50</text>
<line x1="468.97" y1="509.90" x2="468.97" y2="513.30" stroke="#1a1a1a" stroke-width="1.3" stroke-linecap="butt"/>
<text id="F_xl3" x="468.97" y="525.60" font-size="12.000" font-weight="bold" stroke="#000" stroke-width="0.3" text-anchor="middle" fill="#000">75</text>
<line x1="510.00" y1="509.90" x2="510.00" y2="513.30" stroke="#1a1a1a" stroke-width="1.3" stroke-linecap="butt"/>
<text id="F_xl4" x="510.00" y="525.60" font-size="12.000" font-weight="bold" stroke="#000" stroke-width="0.3" text-anchor="middle" fill="#000">100</text>
<path d="M345.90,503.90 L346.39,503.90 L346.43,502.56 L346.46,501.25 L346.49,499.98 L346.52,498.74 L346.56,497.53 L346.59,496.34 L346.62,495.19 L346.65,494.07 L346.69,492.97 L346.72,491.90 L346.75,490.85 L346.79,489.83 L346.82,488.83 L346.85,487.86 L346.88,486.90 L346.92,485.97 L346.95,485.05 L346.98,484.16 L347.02,483.28 L347.05,482.43 L347.08,481.59 L347.11,480.77 L347.15,479.96 L347.18,479.17 L347.21,478.40 L347.38,474.76 L347.54,471.45 L347.71,468.42 L347.87,465.65 L348.03,463.10 L348.20,460.75 L348.36,458.57 L348.53,456.55 L348.69,454.66 L348.85,452.90 L349.02,451.26 L349.18,449.72 L349.35,448.27 L349.51,446.90 L349.67,445.62 L349.84,444.40 L350.00,443.26 L350.17,442.17 L350.33,441.13 L350.49,440.15 L350.66,439.22 L350.82,438.33 L350.99,437.49 L351.15,436.68 L351.32,435.90 L351.48,435.17 L351.64,434.46 L351.81,433.78 L351.97,433.13 L352.14,432.50 L352.30,431.90 L352.46,431.33 L352.63,430.77 L352.79,430.24 L352.96,429.72 L353.12,429.23 L353.28,428.75 L353.45,428.28 L353.61,427.84 L353.78,427.40 L353.94,426.99 L354.10,426.58 L354.93,424.74 L355.75,423.16 L356.57,421.78 L357.39,420.56 L358.21,419.49 L359.03,418.54 L359.85,417.68 L360.67,416.91 L361.49,416.20 L362.31,415.57 L363.13,414.98 L363.95,414.45 L364.77,413.95 L365.59,413.50 L366.41,413.07 L367.23,412.68 L368.05,412.31 L368.87,411.97 L369.69,411.65 L370.51,411.35 L371.34,411.07 L372.16,410.80 L372.98,410.55 L373.80,410.31 L374.62,410.09 L375.44,409.87 L376.26,409.67 L377.08,409.48 L377.90,409.30 L378.72,409.12 L382.00,408.50 L385.28,407.98 L388.57,407.53 L391.85,407.15 L395.13,406.81 L398.41,406.51 L401.69,406.25 L404.98,406.02 L408.26,405.81 L411.54,405.62 L414.82,405.45 L418.10,405.29 L421.39,405.15 L424.67,405.02 L427.95,404.89 L431.23,404.78 L434.51,404.68 L437.80,404.58 L441.08,404.49 L444.36,404.41 L447.64,404.33 L450.92,404.25 L454.21,404.18 L457.49,404.12 L460.77,404.06 L464.05,404.00 L467.33,403.94 L470.62,403.89 L473.90,403.84 L477.18,403.79 L480.46,403.75 L483.74,403.70 L487.03,403.66 L490.31,403.62 L493.59,403.58 L496.87,403.55 L500.15,403.51 L503.44,403.48 L506.72,403.45 L510.00,403.42" fill="none" stroke="#000" stroke-width="1.2" stroke-linejoin="round"/>
<rect x="344.10" y="501.20" width="2.8" height="2.8" fill="#fff" stroke="#333" stroke-width="0.7"/>
<rect x="345.80" y="496.80" width="2.8" height="2.8" fill="#fff" stroke="#333" stroke-width="0.7"/>
<rect x="347.80" y="476.90" width="2.8" height="2.8" fill="#fff" stroke="#333" stroke-width="0.7"/>
<rect x="349.00" y="409.20" width="2.8" height="2.8" fill="#fff" stroke="#333" stroke-width="0.7"/>
<rect x="351.10" y="406.40" width="2.8" height="2.8" fill="#fff" stroke="#333" stroke-width="0.7"/>
<rect x="354.10" y="407.90" width="2.8" height="2.8" fill="#fff" stroke="#333" stroke-width="0.7"/>
<rect x="357.40" y="410.20" width="2.8" height="2.8" fill="#fff" stroke="#333" stroke-width="0.7"/>
<rect x="361.00" y="403.80" width="2.8" height="2.8" fill="#fff" stroke="#333" stroke-width="0.7"/>
<rect x="377.10" y="409.50" width="2.8" height="2.8" fill="#fff" stroke="#333" stroke-width="0.7"/>
<rect x="409.90" y="400.20" width="2.8" height="2.8" fill="#fff" stroke="#333" stroke-width="0.7"/>
<rect x="442.40" y="414.40" width="2.8" height="2.8" fill="#fff" stroke="#333" stroke-width="0.7"/>
<rect x="475.70" y="413.40" width="2.8" height="2.8" fill="#fff" stroke="#333" stroke-width="0.7"/>
<rect x="508.20" y="416.50" width="2.8" height="2.8" fill="#fff" stroke="#333" stroke-width="0.7"/>
<text id="F_yt1" transform="translate(295.00 510.80) rotate(-90)" x="0" y="0" font-size="11.161" text-anchor="start" fill="#000">Inital Rate Proteolysis</text>
<text id="F_yt2" transform="translate(310.60 474.01) rotate(-90)" x="0" y="0" font-size="11.807" text-anchor="start" fill="#000">(nMs<tspan font-size="7.67" dy="-4.72">-1</tspan><tspan dy="4.72">)</tspan></text>
<text id="F_xt" x="387.84" y="539.00" font-size="13.774" text-anchor="start" fill="#000">[Zn<tspan font-size="8.26" dy="-6.20" fill="#555">2+</tspan><tspan dy="6.20">] (μM)</tspan></text>
<text id="F_K" x="381.94" y="464.80" font-size="10.500" font-weight="bold" stroke="#000" stroke-width="0.3" text-anchor="start" fill="#000">K<tspan font-size="6.30" dy="1.57">D(App)</tspan></text>
<text id="F_v" x="416.12" y="465.00" font-size="11.804" text-anchor="start" fill="#000">= 1.5 ±0.6μM</text>
</svg>
</body></html>
